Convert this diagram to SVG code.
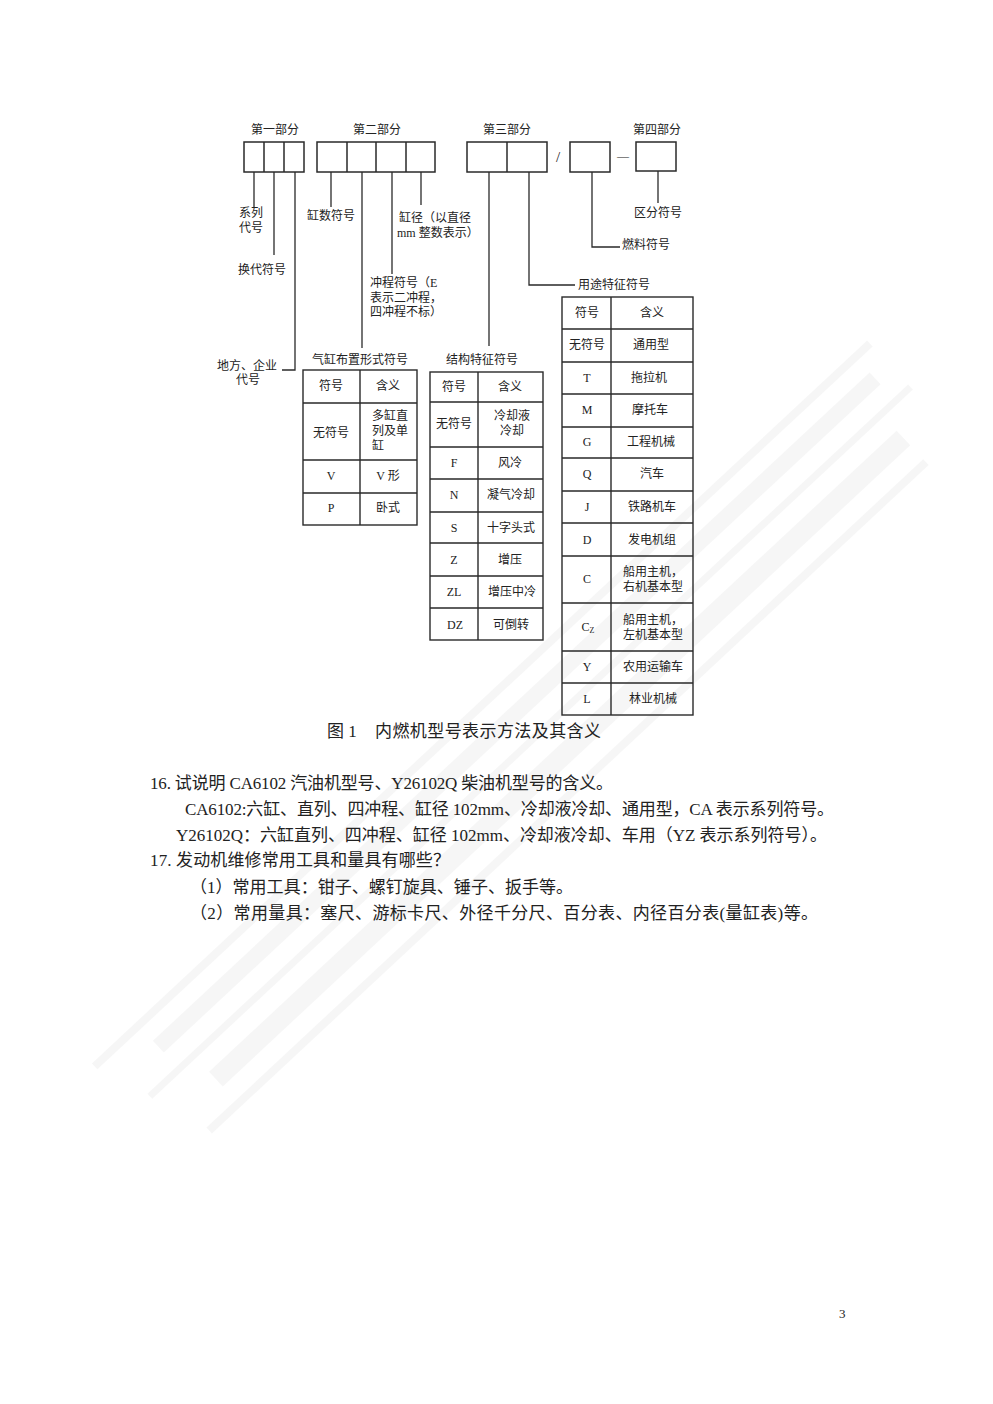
<svg xmlns="http://www.w3.org/2000/svg" width="993" height="1404" viewBox="0 0 993 1404">
<style>
.bx{fill:none;stroke:#2a2a2a;stroke-width:1.5}
.cn{fill:none;stroke:#2a2a2a;stroke-width:1.3}
.tb{fill:none;stroke:#2a2a2a;stroke-width:1.4}
.t{font-family:"Liberation Serif","Noto Sans CJK SC",serif;font-size:12px;fill:#222;dominant-baseline:central}
.c{text-anchor:middle}
.body{font-family:"Liberation Serif","Noto Sans CJK SC",serif;font-size:17px;fill:#222;dominant-baseline:central}
.wm{fill:#efefef;opacity:0.55}
</style>
<rect width="993" height="1404" fill="#ffffff"/>
<g id="watermark" transform="rotate(-43 520 760)">
  <rect class="wm" x="0" y="690" width="1060" height="8"/>
  <rect class="wm" x="60" y="715" width="980" height="16"/>
  <rect class="wm" x="20" y="750" width="1040" height="7"/>
  <rect class="wm" x="80" y="776" width="940" height="20"/>
  <rect class="wm" x="40" y="815" width="980" height="8"/>
</g>

<g id="part1">
  <text class="t c" x="275" y="130">第一部分</text>
  <rect class="bx" x="244" y="142" width="60" height="30"/>
  <path class="bx" d="M264 142V172M284 142V172"/>
</g>
<g id="part2">
  <text class="t c" x="377" y="130">第二部分</text>
  <rect class="bx" x="317" y="142" width="118" height="30"/>
  <path class="bx" d="M347 142V172M376 142V172M406 142V172"/>
</g>
<g id="part3">
  <text class="t c" x="507" y="130">第三部分</text>
  <rect class="bx" x="467" y="142" width="80" height="30"/>
  <path class="bx" d="M507 142V172"/>
</g>
<g id="sep">
  <text class="t c" x="558" y="157" style="font-size:15px">/</text>
  <text class="t c" x="623" y="156">—</text>
</g>
<g id="fuelbox">
  <rect class="bx" x="570" y="142" width="40" height="30"/>
</g>
<g id="part4">
  <text class="t c" x="657" y="130">第四部分</text>
  <rect class="bx" x="636" y="142" width="40" height="29"/>
</g>

<g id="connectors">
  <path class="cn" d="M254 172V207"/>
  <path class="cn" d="M274 172V255"/>
  <path class="cn" d="M295 172V370H282"/>
  <path class="cn" d="M331 172V207"/>
  <path class="cn" d="M362 172V348"/>
  <path class="cn" d="M392 172V274"/>
  <path class="cn" d="M421 172V205"/>
  <path class="cn" d="M489 172V346"/>
  <path class="cn" d="M529 172V285H575"/>
  <path class="cn" d="M592 172V247H620"/>
  <path class="cn" d="M658 171V203"/>
</g>

<g id="labels">
  <text class="t" x="239" y="213">系列</text>
  <text class="t" x="239" y="228">代号</text>
  <text class="t" x="238" y="270">换代符号</text>
  <text class="t" x="217" y="366">地方、企业</text>
  <text class="t c" x="248" y="380">代号</text>
  <text class="t c" x="331" y="216">缸数符号</text>
  <text class="t" x="399" y="218">缸径（以直径</text>
  <text class="t" x="397" y="233">mm 整数表示）</text>
  <text class="t" x="370" y="283">冲程符号（E</text>
  <text class="t" x="370" y="298">表示二冲程，</text>
  <text class="t" x="370" y="312">四冲程不标）</text>
  <text class="t c" x="658" y="213">区分符号</text>
  <text class="t" x="622" y="245">燃料符号</text>
  <text class="t" x="578" y="285">用途特征符号</text>
</g>

<g id="table-cylinder">
  <text class="t c" x="360" y="360">气缸布置形式符号</text>
  <rect class="tb" x="303" y="370" width="114" height="155"/>
  <path class="tb" d="M360 370V525M303 403H417M303 460H417M303 493H417"/>
  <text class="t c" x="331" y="386">符号</text>
  <text class="t c" x="388" y="386">含义</text>
  <text class="t c" x="331" y="433">无符号</text>
  <text class="t" x="372" y="416">多缸直</text>
  <text class="t" x="372" y="431">列及单</text>
  <text class="t" x="372" y="446">缸</text>
  <text class="t c" x="331" y="476">V</text>
  <text class="t c" x="388" y="476">V 形</text>
  <text class="t c" x="331" y="508">P</text>
  <text class="t c" x="388" y="508">卧式</text>
</g>

<g id="table-structure">
  <text class="t c" x="482" y="360">结构特征符号</text>
  <rect class="tb" x="430" y="372" width="113" height="268"/>
  <path class="tb" d="M478 372V640M430 402H543M430 447H543M430 479H543M430 512H543M430 543H543M430 576H543M430 608H543"/>
  <text class="t c" x="454" y="387">符号</text>
  <text class="t c" x="510" y="387">含义</text>
  <text class="t c" x="454" y="424">无符号</text>
  <text class="t c" x="512" y="416">冷却液</text>
  <text class="t c" x="512" y="431">冷却</text>
  <text class="t c" x="454" y="463">F</text>
  <text class="t c" x="510" y="463">风冷</text>
  <text class="t c" x="454" y="495">N</text>
  <text class="t c" x="511" y="495">凝气冷却</text>
  <text class="t c" x="454" y="528">S</text>
  <text class="t c" x="511" y="528">十字头式</text>
  <text class="t c" x="454" y="560">Z</text>
  <text class="t c" x="510" y="560">增压</text>
  <text class="t c" x="454" y="592">ZL</text>
  <text class="t c" x="512" y="592">增压中冷</text>
  <text class="t c" x="455" y="625">DZ</text>
  <text class="t c" x="511" y="625">可倒转</text>
</g>

<g id="table-usage">
  <rect class="tb" x="562" y="297" width="131" height="418"/>
  <path class="tb" d="M611 297V715M562 329H693M562 362H693M562 394H693M562 427H693M562 458H693M562 491H693M562 523H693M562 556H693M562 603H693M562 651H693M562 683H693"/>
  <text class="t c" x="587" y="313">符号</text>
  <text class="t c" x="652" y="313">含义</text>
  <text class="t c" x="587" y="345">无符号</text>
  <text class="t c" x="651" y="345">通用型</text>
  <text class="t c" x="587" y="378">T</text>
  <text class="t c" x="649" y="378">拖拉机</text>
  <text class="t c" x="587" y="410">M</text>
  <text class="t c" x="650" y="410">摩托车</text>
  <text class="t c" x="587" y="442">G</text>
  <text class="t c" x="651" y="442">工程机械</text>
  <text class="t c" x="587" y="474">Q</text>
  <text class="t c" x="652" y="474">汽车</text>
  <text class="t c" x="587" y="507">J</text>
  <text class="t c" x="652" y="507">铁路机车</text>
  <text class="t c" x="587" y="540">D</text>
  <text class="t c" x="652" y="540">发电机组</text>
  <text class="t c" x="587" y="579">C</text>
  <text class="t c" x="653" y="572">船用主机，</text>
  <text class="t c" x="653" y="587">右机基本型</text>
  <text class="t c" x="588" y="627">C<tspan font-size="8" dy="3">Z</tspan></text>
  <text class="t c" x="653" y="620">船用主机，</text>
  <text class="t c" x="653" y="635">左机基本型</text>
  <text class="t c" x="587" y="667">Y</text>
  <text class="t c" x="653" y="667">农用运输车</text>
  <text class="t c" x="587" y="699">L</text>
  <text class="t c" x="653" y="699">林业机械</text>
</g>

<g id="caption">
  <text class="body" x="327" y="731">图 1</text>
  <text class="body" x="375" y="731" textLength="226" lengthAdjust="spacing">内燃机型号表示方法及其含义</text>
</g>

<g id="body-text">
  <text class="body" x="150" y="783" textLength="463" lengthAdjust="spacing">16. 试说明 CA6102 汽油机型号、Y26102Q 柴油机型号的含义。</text>
  <text class="body" x="185" y="809" textLength="649" lengthAdjust="spacing">CA6102:六缸、直列、四冲程、缸径 102mm、冷却液冷却、通用型，CA 表示系列符号。</text>
  <text class="body" x="176" y="835" textLength="651" lengthAdjust="spacing">Y26102Q：六缸直列、四冲程、缸径 102mm、冷却液冷却、车用（YZ 表示系列符号）。</text>
  <text class="body" x="150" y="860" textLength="300" lengthAdjust="spacing">17. 发动机维修常用工具和量具有哪些？</text>
  <text class="body" x="190" y="887" textLength="383" lengthAdjust="spacing">（1）常用工具：钳子、螺钉旋具、锤子、扳手等。</text>
  <text class="body" x="190" y="913" textLength="628" lengthAdjust="spacing">（2）常用量具：塞尺、游标卡尺、外径千分尺、百分表、内径百分表(量缸表)等。</text>
</g>

<g id="page-number">
  <text class="body" x="839" y="1313" style="font-size:13px">3</text>
</g>
</svg>
